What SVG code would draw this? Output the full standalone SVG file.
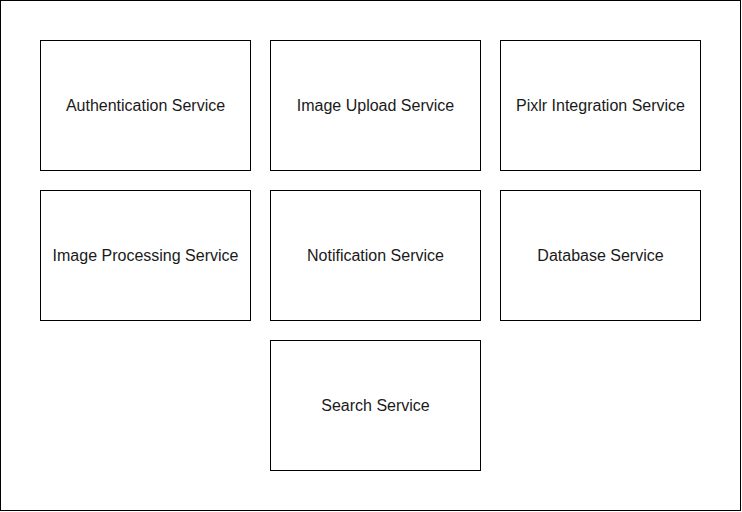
<svg xmlns="http://www.w3.org/2000/svg" width="742" height="512" viewBox="0 0 742 512">
<style>
.box{fill:#fff;stroke:#000;stroke-width:1}
.lbl{font-family:"Liberation Sans",Arial,sans-serif;font-size:16px;fill:#1a1a1a;text-anchor:middle;dominant-baseline:central}
</style>
<rect x="0.5" y="0.5" width="740" height="510" fill="#fff" stroke="#000" stroke-width="1"/>
<g id="auth"><rect class="box" x="40.5" y="40.5" width="210" height="130"/><text class="lbl" x="145.5" y="105.5">Authentication Service</text></g>
<g id="upload"><rect class="box" x="270.5" y="40.5" width="210" height="130"/><text class="lbl" x="375.5" y="105.5">Image Upload Service</text></g>
<g id="pixlr"><rect class="box" x="500.5" y="40.5" width="200" height="130"/><text class="lbl" x="600.5" y="105.5">Pixlr Integration Service</text></g>
<g id="processing"><rect class="box" x="40.5" y="190.5" width="210" height="130"/><text class="lbl" x="145.5" y="255.5">Image Processing Service</text></g>
<g id="notification"><rect class="box" x="270.5" y="190.5" width="210" height="130"/><text class="lbl" x="375.5" y="255.5">Notification Service</text></g>
<g id="database"><rect class="box" x="500.5" y="190.5" width="200" height="130"/><text class="lbl" x="600.5" y="255.5">Database Service</text></g>
<g id="search"><rect class="box" x="270.5" y="340.5" width="210" height="130"/><text class="lbl" x="375.5" y="405.5">Search Service</text></g>
<g id="connectors"></g>
</svg>
